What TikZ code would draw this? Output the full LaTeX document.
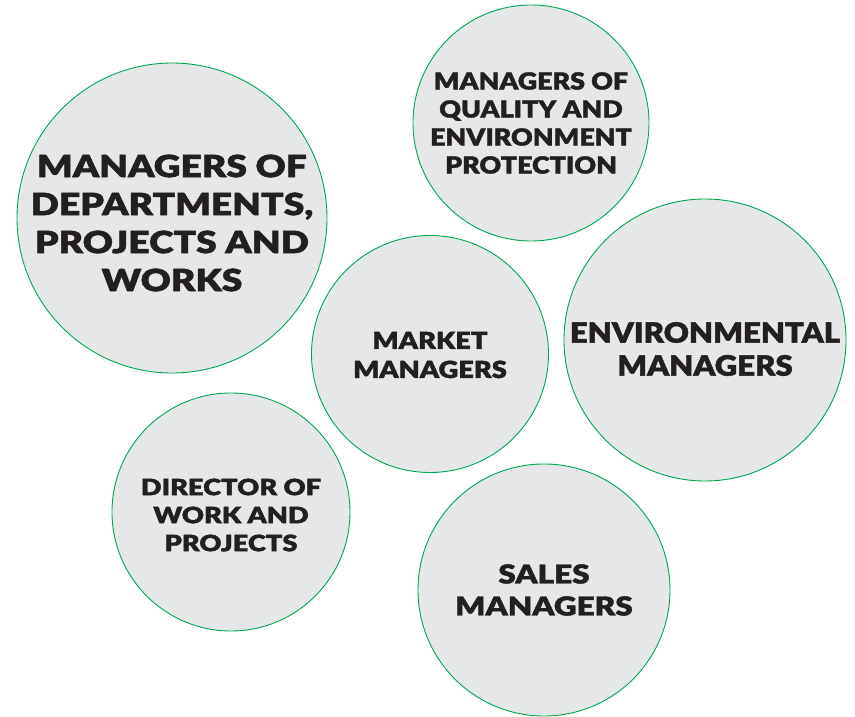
\documentclass[tikz,border=0pt]{standalone}
\usepackage{fontspec}
\setmainfont{Lato}[BoldFont={Lato Black}]
\definecolor{ringgreen}{RGB}{0,166,81}
\definecolor{discgray}{RGB}{230,231,232}
\definecolor{inkblack}{RGB}{35,31,32}
\tikzset{
  role/.style={circle, draw=ringgreen, fill=discgray, line width=0.9pt, inner sep=0pt},
  roletext/.style={align=center, text=inkblack, inner sep=0pt},
}
\newcommand{\rolefont}[3]{\fontsize{#1}{#2}\selectfont\bfseries\addfontfeature{FakeStretch=#3,FakeBold=1.6}}

\begin{document}
\begin{tikzpicture}[x=1pt,y=-1pt]
\useasboundingbox (0,0) rectangle (855,717);

% circles
\node[role, minimum size=310pt] (departments) at (172,218) {};
\node[role, minimum size=236pt] (quality) at (531,123) {};
\node[role, minimum size=237pt] (market) at (430,354) {};
\node[role, minimum size=282pt] (environmental) at (705,340) {};
\node[role, minimum size=238pt] (director) at (231,512) {};
\node[role, minimum size=252pt] (sales) at (544,590) {};

% texts
\node[roletext, font=\rolefont{30.5}{38}{1.22}] (departments-text) at ([yshift=-5pt]departments.center) {MANAGERS OF\\DEPARTMENTS,\\PROJECTS AND\\WORKS};
\node[roletext, font=\rolefont{23.5}{28}{1.14}] (quality-text) at (quality.center) {MANAGERS OF\\QUALITY AND\\ENVIRONMENT\\PROTECTION};
\node[roletext, font=\rolefont{23.5}{29}{1.16}] (market-text) at ([yshift=-1pt]market.center) {MARKET\\MANAGERS};
\node[roletext, font=\rolefont{28}{33}{1.11}] (environmental-text) at ([yshift=-9pt]environmental.center) {ENVIRONMENTAL\\MANAGERS};
\node[roletext, font=\rolefont{22.5}{28}{1.21}] (director-text) at ([yshift=-3pt]director.center) {DIRECTOR OF\\WORK AND\\PROJECTS};
\node[roletext, font=\rolefont{26}{32}{1.21}] (sales-text) at (sales.center) {SALES\\MANAGERS};
\end{tikzpicture}
\end{document}
